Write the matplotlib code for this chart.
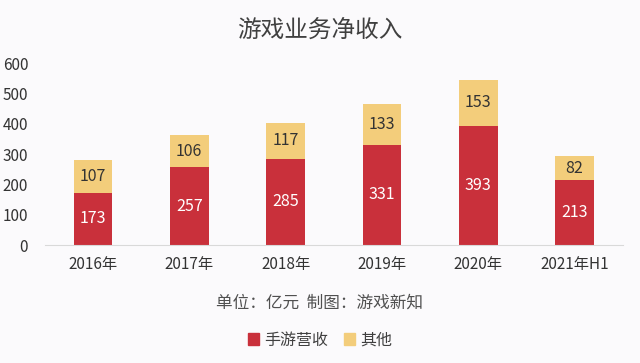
import matplotlib
matplotlib.use("Agg")
import matplotlib.pyplot as plt
from matplotlib.patches import Patch
import numpy as np

plt.rcParams['font.family'] = ['Noto Sans CJK SC', 'DejaVu Sans']

# data
categories = ["2016年", "2017年", "2018年", "2019年", "2020年", "2021年H1"]
mobile = [173, 257, 285, 331, 393, 213]
other = [107, 106, 117, 133, 153, 82]

red = "#C9303B"
yellow = "#F3CD7B"
bg = "#FBFAFC"

fig = plt.figure(figsize=(6.4, 3.63), dpi=100, facecolor=bg)
ax = fig.add_axes([0.07, 0.325, 0.903, 0.501], facecolor=bg)

x = np.arange(len(categories))
ax.bar(x, mobile, width=0.4, color=red)
ax.bar(x, other, width=0.4, bottom=mobile, color=yellow)

for i in range(len(x)):
    ax.text(x[i], mobile[i] / 2, str(mobile[i]), ha="center", va="center",
            color="white", fontsize=11.5, fontweight="medium")
    ax.text(x[i], mobile[i] + other[i] / 2, str(other[i]), ha="center",
            va="center", color="#333333", fontsize=11.5)

ax.set_xlim(-0.5, len(x) - 0.5)
ax.set_ylim(0, 600)
ax.set_yticks(range(0, 601, 100))
ax.set_xticks(x)
ax.set_xticklabels(categories)
ax.tick_params(axis="both", length=0, labelsize=11, colors="#333333")
ax.tick_params(axis="y", pad=12)
ax.tick_params(axis="x", pad=8)
for s in ["top", "right", "left"]:
    ax.spines[s].set_visible(False)
ax.spines["bottom"].set_color("#D9D9D9")

fig.text(0.5, 0.918, "游戏业务净收入", ha="center", va="center",
         fontsize=17, color="#404040")
fig.text(0.5, 0.165, "单位：亿元  制图：游戏新知", ha="center", va="center",
         fontsize=12, color="#505050")

handles = [Patch(color=red, label="手游营收"), Patch(color=yellow, label="其他")]
fig.legend(handles=handles, loc="center", bbox_to_anchor=(0.5, 0.063), ncol=2,
           frameon=False, fontsize=11.5, handlelength=0.7, handleheight=0.7,
           handletextpad=0.3, columnspacing=1.0, labelcolor="#404040")

fig.savefig("out.png", dpi=100, facecolor=bg)
